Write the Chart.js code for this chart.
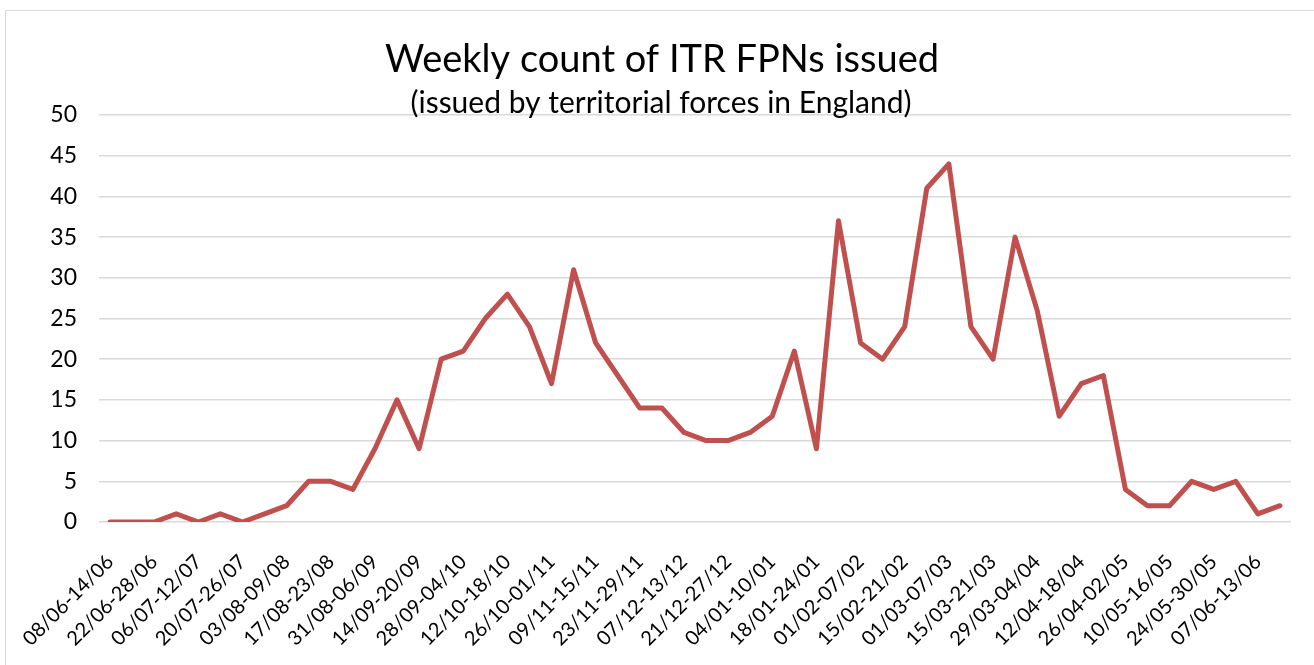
<!DOCTYPE html>
<html>
<head>
<meta charset="utf-8">
<script src="https://cdn.jsdelivr.net/npm/chart.js@4.4.1/dist/chart.umd.min.js"></script>
<style>
    html, body { margin: 0; padding: 0; background: #fff; }
    #wrap { position: absolute; left: 0; top: 0; width: 1314px; height: 665px; }
    #frame { position: absolute; left: 5px; top: 10px; width: 1330px; height: 700px; border: 1px solid #d9d9d9; pointer-events: none; }
</style>
</head>
<body>
<div id="wrap"><canvas id="chart" width="1314" height="665"></canvas></div>
<div id="frame"></div>
<script>
// --- Data ---
const TITLE = 'Weekly count of ITR FPNs issued';
const SUBTITLE = '(issued by territorial forces in England)';

const weeks = [
    '08/06-14/06', '15/06-21/06', '22/06-28/06', '29/06-05/07', '06/07-12/07', '13/07-19/07',
    '20/07-26/07', '27/07-02/08', '03/08-09/08', '10/08-16/08', '17/08-23/08', '24/08-30/08',
    '31/08-06/09', '07/09-13/09', '14/09-20/09', '21/09-27/09', '28/09-04/10', '05/10-11/10',
    '12/10-18/10', '19/10-25/10', '26/10-01/11', '02/11-08/11', '09/11-15/11', '16/11-22/11',
    '23/11-29/11', '30/11-06/12', '07/12-13/12', '14/12-20/12', '21/12-27/12', '28/12-03/01',
    '04/01-10/01', '11/01-17/01', '18/01-24/01', '25/01-31/01', '01/02-07/02', '08/02-14/02',
    '15/02-21/02', '22/02-28/02', '01/03-07/03', '08/03-14/03', '15/03-21/03', '22/03-28/03',
    '29/03-04/04', '05/04-11/04', '12/04-18/04', '19/04-25/04', '26/04-02/05', '03/05-09/05',
    '10/05-16/05', '17/05-23/05', '24/05-30/05', '31/05-06/06', '07/06-13/06', '14/06-20/06'
];

const fpnCounts = [
    0, 0, 0, 1, 0, 1, 0, 1, 2, 5,
    5, 4, 9, 15, 9, 20, 21, 25, 28, 24,
    17, 31, 22, 18, 14, 14, 11, 10, 10, 11,
    13, 21, 9, 37, 22, 20, 24, 41, 44, 24,
    20, 35, 26, 13, 17, 18, 4, 2, 2, 5,
    4, 5, 1, 2
];

const yMin = 0;
const yMax = 50;
const yStep = 5;

// draws the two title lines; the subtitle sits over the top gridline like in the original
const titlePlugin = {
    id: 'titles',
    afterDraw(chart) {
        const ctx = chart.ctx;
        ctx.save();
        ctx.fillStyle = '#000';
        ctx.textAlign = 'center';
        ctx.textBaseline = 'alphabetic';
        ctx.font = '38px Lato';
        ctx.fillText(TITLE, 662, 72);
        ctx.font = '30px Lato';
        ctx.fillText(SUBTITLE, 661, 113);
        ctx.restore();
    }
};

new Chart(document.getElementById('chart'), {
    type: 'line',
    data: {
        labels: weeks,
        datasets: [{
            label: 'FPNs',
            data: fpnCounts,
            borderColor: '#c0504d',
            backgroundColor: '#c0504d',
            borderWidth: 5,
            borderJoinStyle: 'round',
            borderCapStyle: 'round',
            tension: 0,
            pointRadius: 0,
            fill: false
        }]
    },
    options: {
        responsive: false,
        animation: false,
        layout: { padding: { top: 115, right: 23, bottom: 0, left: 0 } },
        plugins: {
            legend: { display: false },
            title: { display: false },
            tooltip: { enabled: false }
        },
        scales: {
            x: {
                offset: true,
                grid: { display: false, drawTicks: false },
                border: { display: false },
                afterFit: (s) => { s.height = 143; s.paddingLeft = 0; s.paddingRight = 0; },
                ticks: {
                    autoSkip: false,
                    maxRotation: 45,
                    minRotation: 45,
                    padding: 28,
                    color: '#000',
                    font: { family: 'Lato', size: 20 },
                    callback: function (val, i) { return i % 2 === 0 ? this.getLabelForValue(val) : ''; }
                }
            },
            y: {
                min: yMin,
                max: yMax,
                grid: { color: '#d9d9d9', lineWidth: 1.5, drawTicks: false },
                border: { display: false },
                afterFit: (s) => { s.width = 99; },
                ticks: {
                    stepSize: yStep,
                    padding: 22,
                    color: '#000',
                    font: { family: 'Lato', size: 23 }
                }
            }
        }
    },
    plugins: [titlePlugin]
});
</script>
</body>
</html>
